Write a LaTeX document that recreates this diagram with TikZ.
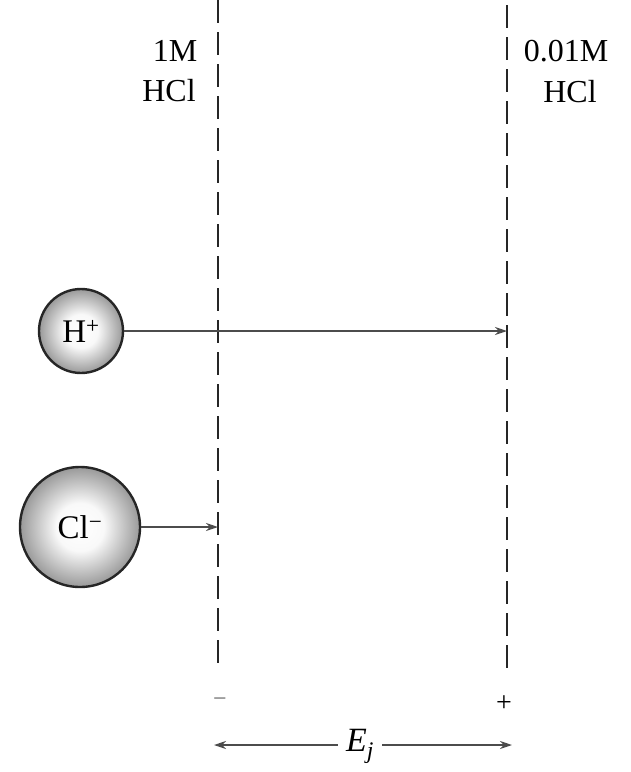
\documentclass[tikz,border=0pt]{standalone}
\usepackage{fontspec}
\setmainfont{Liberation Serif}
\usetikzlibrary{arrows.meta}
\pgfdeclareradialshading{ionshade}{\pgfpoint{0bp}{0bp}}{color(0bp)=(white); color(10bp)=(white!95!gray); color(19bp)=(gray!50); color(25bp)=(gray!80); color(50bp)=(gray!80)}
\begin{document}
\begin{tikzpicture}[x=1pt,y=-1pt,
  boundary/.style={line width=2.6pt,dash pattern=on 23pt off 9pt,black!85},
  ion/.style={circle,draw=black!85,line width=2.4pt,inner sep=0pt,shading=ionshade,font=\fontsize{33}{36}\selectfont},
  lbl/.style={font=\fontsize{32}{36}\selectfont,align=center,inner sep=0pt},
  flow/.style={line width=2pt,black!70,-{Stealth[length=12pt,width=8pt]}}]
\useasboundingbox (0,0) rectangle (630,772);
\coordinate (Ltop) at (218,0);
\coordinate (Lbot) at (218,670);
\coordinate (Rtop) at (507,5);
\coordinate (Rbot) at (507,672);
\draw[boundary] (Ltop) -- (Lbot);
\draw[boundary] (Rtop) -- (Rbot);
\node[lbl] (l1) at (175,51) {1M};
\node[lbl] (l2) at (169,91) {HCl};
\node[lbl] (r1) at (566,51) {0.01M};
\node[lbl] (r2) at (570,92) {HCl};
\node[ion,minimum size=84pt] (H) at (81,331) {H\textsuperscript{+}};
\node[ion,minimum size=120pt] (Cl) at (80,527) {Cl\textsuperscript{−}};
\coordinate (Hend) at (507,331);
\coordinate (Clend) at (218,527);
\draw[flow] (H) -- (Hend);
\draw[flow] (Cl) -- (Clend);
\node[lbl,font=\fontsize{24}{26}\selectfont,text=black!60] (minus) at (220,702) {−};
\node[lbl,font=\fontsize{28}{30}\selectfont] (plus) at (504,704) {+};
\node[lbl,font=\fontsize{34}{36}\selectfont] (Ej) at (360,746) {\textit{E}\textsubscript{\textit{j}}};
\coordinate (EL) at (214,745);
\coordinate (ER) at (512,745);
\draw[flow] (Ej.west) ++(-8,-1) -- (EL);
\draw[flow] (Ej.east) ++(8,-1) -- (ER);
\end{tikzpicture}
\end{document}
